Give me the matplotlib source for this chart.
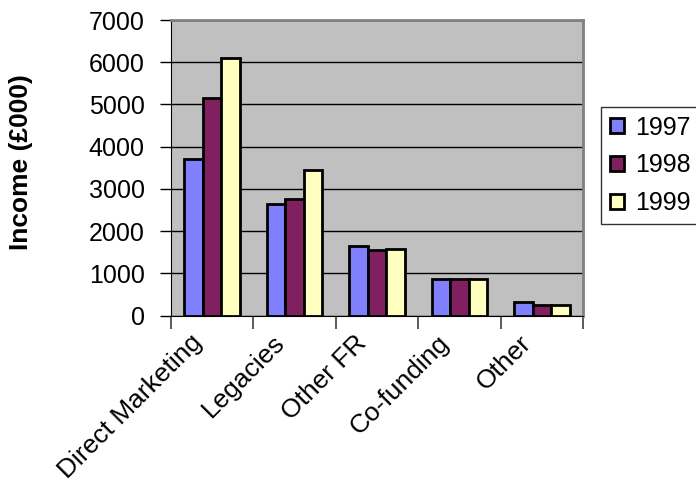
import numpy as np
import matplotlib.pyplot as plt

categories = ['Direct Marketing', 'Legacies', 'Other FR', 'Co-funding', 'Other']
years = ['1997', '1998', '1999']
income_1997 = [3700, 2650, 1650, 860, 320]
income_1998 = [5160, 2760, 1550, 860, 250]
income_1999 = [6090, 3450, 1575, 860, 250]
colours = ['#8080FF', '#802060', '#FFFFC0']

plt.rcParams['font.family'] = ['Liberation Sans', 'DejaVu Sans']

fig = plt.figure(figsize=(6.96, 4.93), dpi=100)
ax = fig.add_axes([171/696, 1 - 315.5/493, 412/696, 295.5/493])
ax.set_facecolor('#C0C0C0')

index = np.arange(len(categories))
bar_width = 0.225
series = [income_1997, income_1998, income_1999]
handles = []
for i, vals in enumerate(series):
    b = ax.bar(index + (i - 1) * bar_width, vals, bar_width, color=colours[i],
               edgecolor='black', lw=2.0, zorder=3, label=years[i])
    handles.append(b)

ax.set_ylim(0, 7000)
ax.set_xlim(-0.5, len(categories) - 0.5)
ax.set_yticks(np.arange(0, 7001, 1000))
ax.yaxis.grid(True, color='black', lw=1.0, zorder=1)
ax.set_axisbelow(True)

# category ticks sit between the groups
ax.set_xticks(np.arange(-0.5, len(categories), 1.0))
ax.set_xticklabels([])
ax.tick_params(axis='x', length=9, width=1.2, color='#404040', direction='out')
ax.tick_params(axis='y', length=8, width=1.0, direction='out', labelsize=18, pad=11)

# rotated category names, right end just under each group
for i, name in enumerate(categories):
    ax.annotate(name, xy=(i, 0), xycoords=('data', 'axes fraction'),
                xytext=(-10, -17), textcoords='offset points',
                rotation=45, rotation_mode='anchor', ha='right', va='center',
                fontsize=19)

for side in ['top', 'right']:
    ax.spines[side].set_color('#808080')
    ax.spines[side].set_linewidth(2)
ax.spines['left'].set_color('black')
ax.spines['bottom'].set_color('black')

ax.set_ylabel('Income (£000)', fontsize=19, fontweight='bold')
ax.yaxis.set_label_coords(-0.335, 0.518)

leg = fig.legend(handles=handles, labels=years, loc='upper left',
                 bbox_to_anchor=(601/696, 1 - 107/493), fontsize=18,
                 frameon=True, fancybox=False, edgecolor='black',
                 handlelength=0.55, handleheight=0.55, handletextpad=0.45,
                 borderpad=0.35, labelspacing=0.55, borderaxespad=0)
leg.get_frame().set_linewidth(1.0)

fig.savefig('out.png', dpi=100)
